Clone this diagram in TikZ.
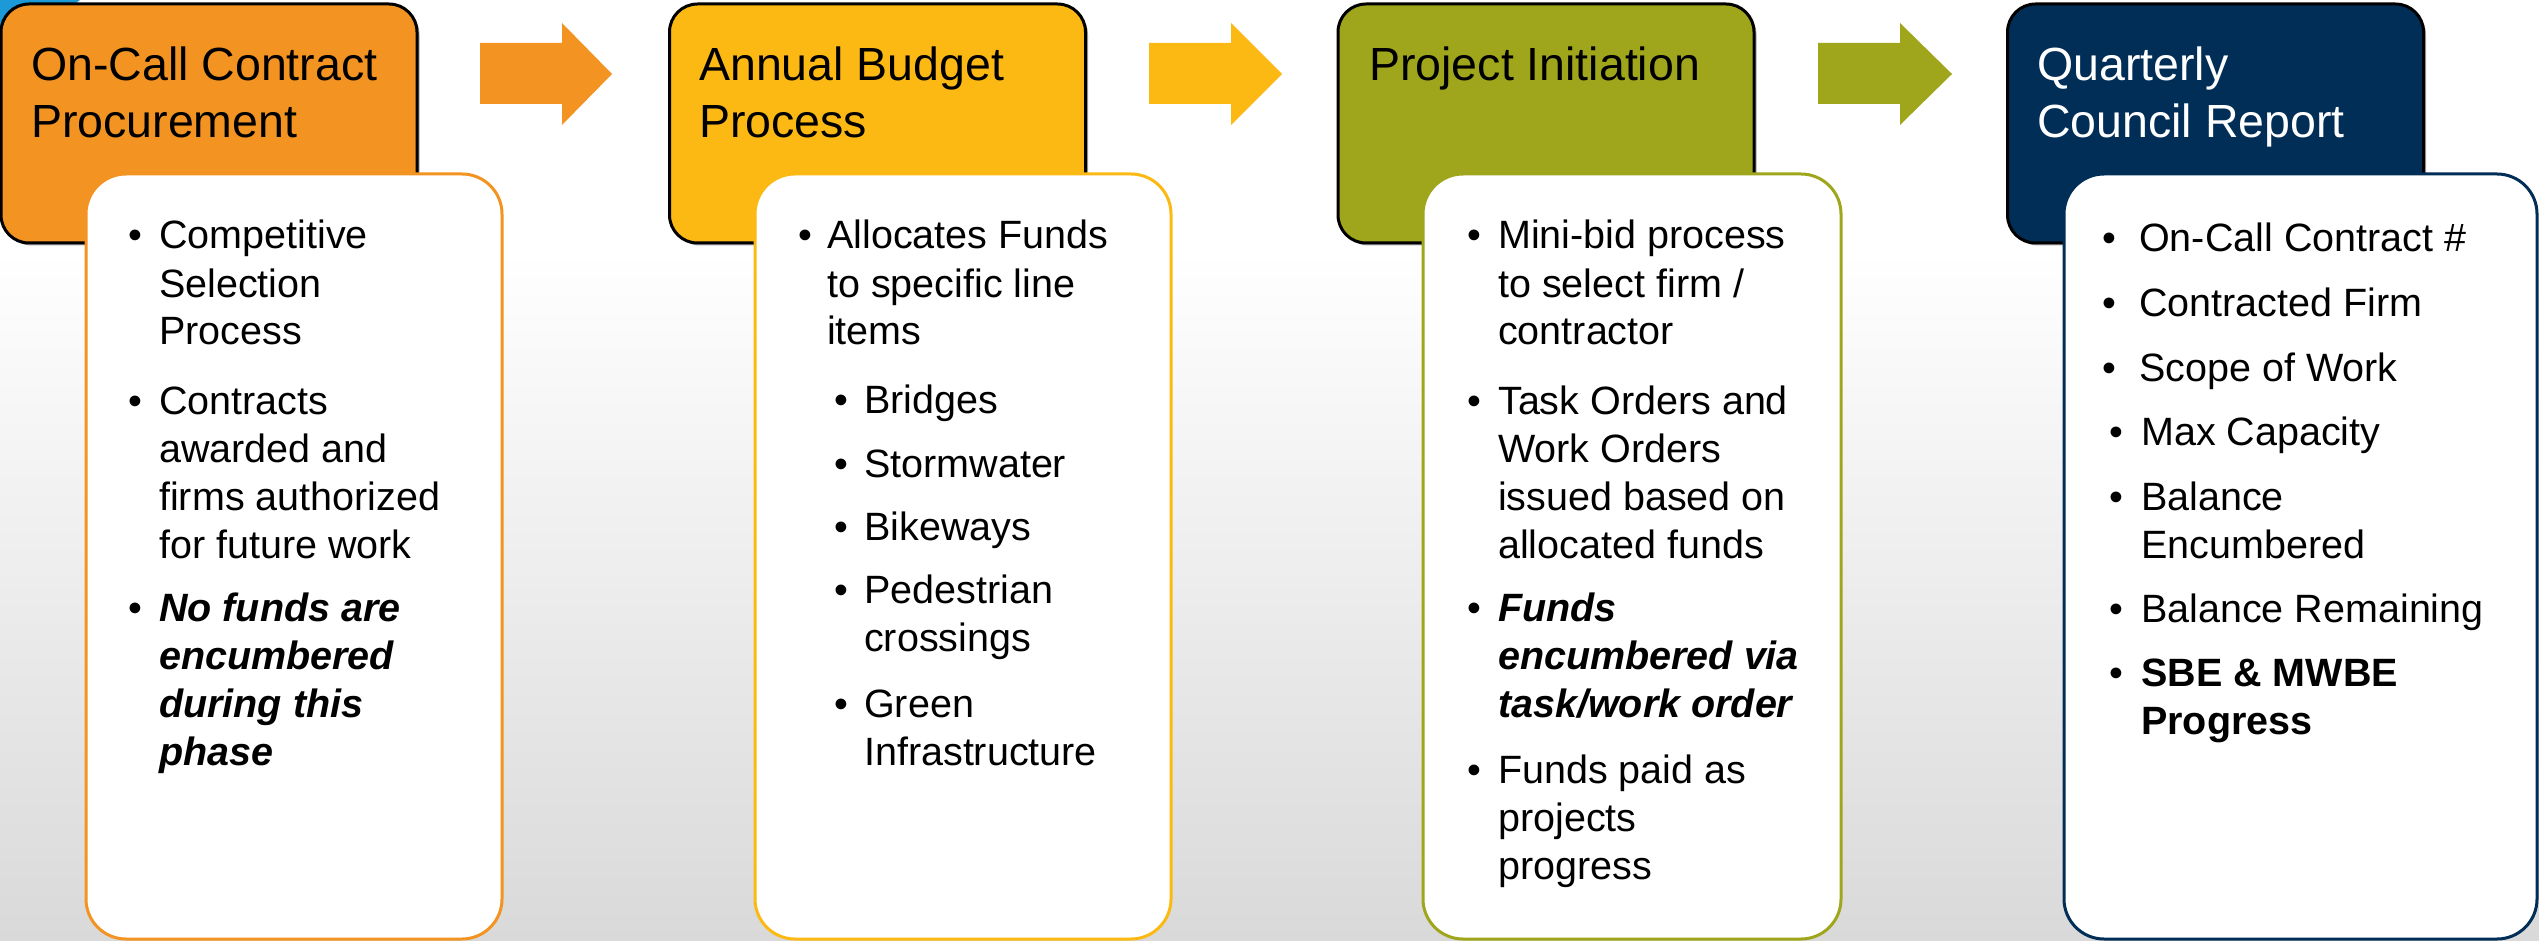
\documentclass[tikz,border=0pt]{standalone}
\usepackage{fontspec}
\setmainfont{Liberation Sans}
\usetikzlibrary{shadows}
\definecolor{cOrange}{HTML}{F39321}
\definecolor{cYellow}{HTML}{FDB913}
\definecolor{cOlive}{HTML}{A0A61B}
\definecolor{cNavy}{HTML}{002E57}
\definecolor{cBlue}{HTML}{1B9AD7}
\definecolor{bgGray}{HTML}{D9D9D9}
\tikzset{
  hdrbox/.style={draw=black, line width=3pt, rounded corners=28pt, minimum width=416pt, minimum height=239pt, inner sep=0pt,
    drop shadow={shadow xshift=2.5pt, shadow yshift=-2.5pt, opacity=0.35, fill=black}},
  bodybox/.style={fill=white, line width=3pt, rounded corners=40pt, minimum height=765pt, inner sep=0pt},
  hdrtext/.style={anchor=base west, inner sep=0pt, font=\fontsize{46.5}{57}\selectfont},
  itemtext/.style={anchor=base west, inner sep=0pt, font=\fontsize{39.5}{48}\selectfont},
  bulletmark/.style={anchor=base, inner sep=0pt, font=\fontsize{39.5}{48}\selectfont},
  blockarrow/.style={draw=none}
}
\newcommand\pitem[5]{%
  \node[bulletmark] (#1-b) at (#2,#4) {\textbullet};
  \node[itemtext] (#1) at (#3,#4) {\parbox[t]{420pt}{#5}};}
\newcommand\htext[4]{%
  \node[hdrtext, text=#4] (#1) at (#2,#3) {\parbox[t]{400pt}{#1x}};}
\begin{document}
\begin{tikzpicture}[x=1pt,y=-1pt]
\useasboundingbox (0,0) rectangle (2539,941);
% background
\fill[white] (0,0) rectangle (2539,941);
\shade[top color=white, bottom color=bgGray] (0,250) rectangle (2539,941);
% blue corner shape
\fill[cBlue] (0,0) -- (80,0) -- (0,60) -- cycle;

% header boxes
\node[hdrbox, fill=cOrange] (h1) at (209,123.5) {};
\node[hdrbox, fill=cYellow] (h2) at (877.5,123.5) {};
\node[hdrbox, fill=cOlive]  (h3) at (1546,123.5) {};
\node[hdrbox, fill=cNavy]   (h4) at (2215.5,123.5) {};

% body boxes
\node[bodybox, draw=cOrange, minimum width=416pt] (b1) at (294,556.5) {};
\node[bodybox, draw=cYellow, minimum width=416pt] (b2) at (963,556.5) {};
\node[bodybox, draw=cOlive,  minimum width=418pt] (b3) at (1632,556.5) {};
\node[bodybox, draw=cNavy,   minimum width=473pt] (b4) at (2300.5,556.5) {};

% block arrows
\fill[cOrange] (480,43) -- (562,43) -- (562,23) -- (612,74) -- (562,125) -- (562,104) -- (480,104) -- cycle;
\fill[cYellow] (1149,43) -- (1231,43) -- (1231,23) -- (1282,74) -- (1231,125) -- (1231,104) -- (1149,104) -- cycle;
\fill[cOlive] (1818,43) -- (1900,43) -- (1900,23) -- (1952,74) -- (1900,125) -- (1900,104) -- (1818,104) -- cycle;

% header texts
\node[hdrtext] (h1t) at (31,81) {\parbox[t]{400pt}{On-Call Contract\\Procurement}};
\node[hdrtext] (h2t) at (699,81) {\parbox[t]{400pt}{Annual Budget\\Process}};
\node[hdrtext] (h3t) at (1369,81) {\parbox[t]{400pt}{Project Initiation}};
\node[hdrtext, text=white] (h4t) at (2037,81) {\parbox[t]{400pt}{Quarterly\\Council Report}};

% body 1
\pitem{a1}{135.5}{159}{249}{Competitive\\Selection\\Process}
\pitem{a2}{135.5}{159}{414}{Contracts\\awarded and\\firms authorized\\for future work}
\pitem{a3}{135.5}{159}{621}{\textbf{\textit{No funds are\\encumbered\\during this\\phase}}}

% body 2
\pitem{c1}{805}{827}{249}{Allocates Funds\\to specific line\\items}
\pitem{c2}{841}{864}{413}{Bridges}
\pitem{c3}{841}{864}{477}{Stormwater}
\pitem{c4}{841}{864}{540}{Bikeways}
\pitem{c5}{841}{864}{603}{Pedestrian\\crossings}
\pitem{c6}{841}{864}{717}{Green\\Infrastructure}

% body 3
\pitem{d1}{1474}{1498}{249}{Mini-bid process\\to select firm /\\contractor}
\pitem{d2}{1474}{1498}{414}{Task Orders and\\Work Orders\\issued based on\\allocated funds}
\pitem{d3}{1474}{1498}{621}{\textbf{\textit{Funds\\encumbered via\\task/work order}}}
\pitem{d4}{1474}{1498}{783}{Funds paid as\\projects\\progress}

% body 4
\pitem{e1}{2109.5}{2139}{252}{On-Call Contract \#}
\pitem{e2}{2109.5}{2139}{316}{Contracted Firm}
\pitem{e3}{2109.5}{2139}{381}{Scope of Work}
\pitem{e4}{2116}{2141}{445}{Max Capacity}
\pitem{e5}{2116}{2141}{510}{Balance\\Encumbered}
\pitem{e6}{2116}{2141}{622}{Balance Remaining}
\pitem{e7}{2116}{2141}{686}{\textbf{SBE \& MWBE\\Progress}}
\end{tikzpicture}
\end{document}
